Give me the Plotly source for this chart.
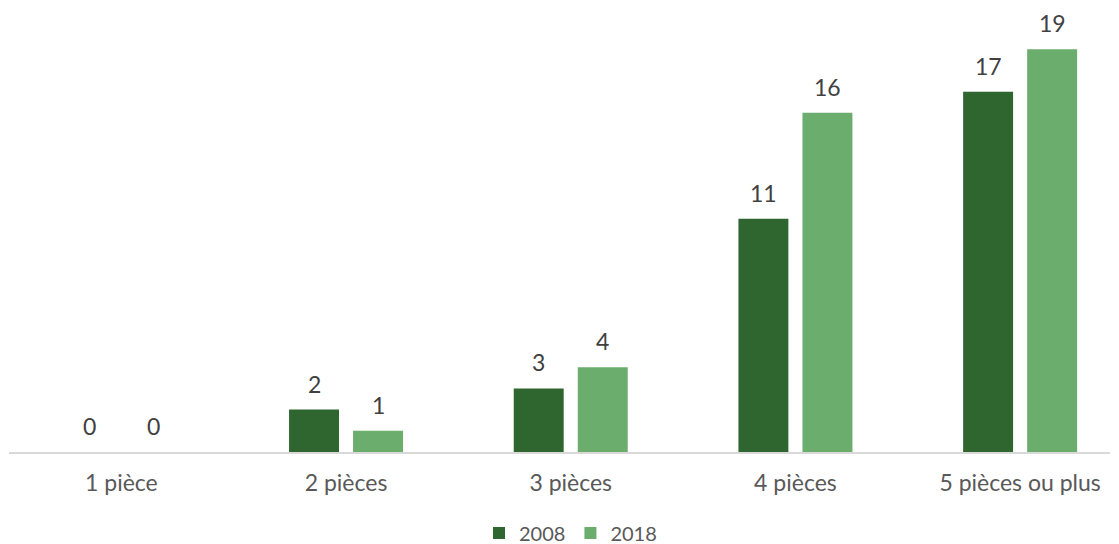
import plotly.graph_objects as go

categories = ["1 pièce", "2 pièces", "3 pièces", "4 pièces", "5 pièces ou plus"]
values_2008 = [0, 2, 3, 11, 17]
values_2018 = [0, 1, 4, 16, 19]
series_names = ["2008", "2018"]
colors = ["#2f6630", "#6aad6c"]

FONT = "Lato, 'Open Sans', sans-serif"

fig = go.Figure()
for name, vals, col in zip(series_names, [values_2008, values_2018], colors):
    fig.add_trace(go.Bar(
        x=categories, y=vals, name=name, marker_color=col,
        marker_line_width=0,
    ))

# value labels
for i, (name, vals) in enumerate(zip(series_names, [values_2008, values_2018])):
    shift = -32 if i == 0 else 32
    for c, v in zip(categories, vals):
        fig.add_annotation(
            x=c, y=v, xref="x", yref="y", text=str(v), showarrow=False,
            xshift=shift, yshift=26, font=dict(family=FONT, size=23, color="#404040"),
        )

# page body has an 8px margin, so the figure is 8px smaller each way
fig.update_layout(
    width=1111, height=536,
    margin=dict(l=1, r=9, t=12, b=92),
    paper_bgcolor="white", plot_bgcolor="white",
    barmode="group", bargap=0.43, bargroupgap=0.22,
    font=dict(family=FONT, size=23, color="#595959"),
    showlegend=True,
    legend=dict(orientation="h", x=0.51, xanchor="center", yref="container",
                y=11 / 536, yanchor="middle",
                font=dict(family=FONT, size=20, color="#595959"),
                itemwidth=30, tracegroupgap=0),
    xaxis=dict(showline=True, linecolor="#d9d9d9", linewidth=1.5, ticks="outside",
               ticklen=10, tickcolor="rgba(0,0,0,0)", showgrid=False,
               automargin=False, range=[-0.5, 4.4],
               tickfont=dict(family=FONT, size=23, color="#595959")),
    yaxis=dict(range=[0, 20.38], visible=False, showgrid=False, zeroline=False,
               automargin=False),
)

fig.write_html("out.html")
